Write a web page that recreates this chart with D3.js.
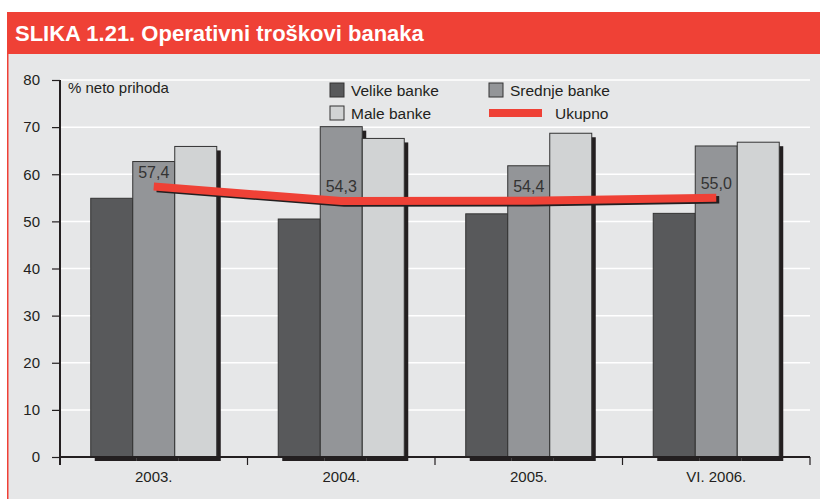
<!DOCTYPE html>
<meta charset="utf-8" />
<head>
  <script src="https://d3js.org/d3.v7.min.js"></script>
  <style>
    body { margin: 0; background: #fff; }
    text { font-family: "Liberation Sans", Arial, sans-serif; }
  </style>
</head>
<body>
  <div id="chart"></div>
</body>
<script>
  // data
  const years = ["2003.", "2004.", "2005.", "VI. 2006."];
  const series = ["Velike banke", "Srednje banke", "Male banke"];
  const velike = [54.9, 50.5, 51.6, 51.7];
  const srednje = [62.7, 70.1, 61.8, 66.0];
  const male = [65.9, 67.6, 68.7, 66.8];
  const ukupno = [57.4, 54.3, 54.4, 55.0];
  const ukupnoLabels = ["57,4", "54,3", "54,4", "55,0"];
  const yTicks = [0, 10, 20, 30, 40, 50, 60, 70, 80];

  const colors = ["#58595b", "#939598", "#d1d3d4"];
  const red = "#ef4136";
  const shadow = "#231f20";

  const W = 820, H = 499;
  const plot = { left: 60, right: 810, top: 80, bottom: 457 };

  var svg = d3
    .select("#chart")
    .append("svg")
    .attr("width", W)
    .attr("height", H);

  // title bar + panel
  svg.append("rect").attr("x", 7).attr("y", 12).attr("width", W - 7).attr("height", 42).attr("fill", red);
  svg.append("rect").attr("x", 7).attr("y", 54).attr("width", W - 7).attr("height", H - 54).attr("fill", "#e6e7e8");
  svg.append("line").attr("x1", 7.75).attr("x2", 7.75).attr("y1", 54).attr("y2", H)
    .attr("stroke", red).attr("stroke-width", 1.5);
  svg.append("text")
    .attr("x", 15).attr("y", 41)
    .attr("fill", "#fff")
    .style("font-size", "22px")
    .style("font-weight", "bold")
    .text("SLIKA 1.21. Operativni troškovi banaka");

  var x = d3.scaleBand().domain(years).range([plot.left, plot.right]);
  var xs = d3.scaleBand().domain(series).range([0, x.bandwidth()]).paddingInner(0).paddingOuter(0.732);
  var y = d3.scaleLinear().domain([0, 80]).range([plot.bottom, plot.top]);

  // gridlines
  svg.append("g")
    .selectAll("line")
    .data(yTicks.filter((d) => d > 0))
    .join("line")
    .attr("x1", plot.left).attr("x2", plot.right)
    .attr("y1", (d) => y(d)).attr("y2", (d) => y(d))
    .attr("stroke", "#fff").attr("stroke-width", 1.5);

  var rows = years.map((yr, i) => ({
    year: yr,
    vals: [velike[i], srednje[i], male[i]],
  }));

  var cells = [];
  rows.forEach((r) => {
    r.vals.forEach((v, j) => cells.push({ year: r.year, s: series[j], v: v, c: colors[j] }));
  });

  // shadows first, bars cover them
  svg.append("g")
    .selectAll("rect")
    .data(cells)
    .join("rect")
    .attr("x", (d) => x(d.year) + xs(d.s) + 4)
    .attr("y", (d) => y(d.v) + 4)
    .attr("width", xs.bandwidth())
    .attr("height", (d) => plot.bottom - y(d.v))
    .attr("fill", shadow);

  svg.append("g")
    .selectAll("rect")
    .data(cells)
    .join("rect")
    .attr("x", (d) => x(d.year) + xs(d.s))
    .attr("y", (d) => y(d.v))
    .attr("width", xs.bandwidth())
    .attr("height", (d) => plot.bottom - y(d.v))
    .attr("fill", (d) => d.c)
    .attr("stroke", "#333")
    .attr("stroke-width", 1);

  // Ukupno line
  var line = d3.line()
    .x((d, i) => x(years[i]) + x.bandwidth() / 2)
    .y((d) => y(d));

  svg.append("path")
    .datum(ukupno)
    .attr("d", line)
    .attr("transform", "translate(3,2)")
    .attr("fill", "none")
    .attr("stroke", shadow)
    .attr("stroke-width", 7.5);
  svg.append("path")
    .datum(ukupno)
    .attr("d", line)
    .attr("fill", "none")
    .attr("stroke", red)
    .attr("stroke-width", 8);

  svg.append("g")
    .selectAll("text")
    .data(ukupno)
    .join("text")
    .attr("x", (d, i) => x(years[i]) + x.bandwidth() / 2)
    .attr("y", (d) => y(d) - 9)
    .attr("text-anchor", "middle")
    .attr("fill", "#333")
    .style("font-size", "16px")
    .text((d, i) => ukupnoLabels[i]);

  // y axis
  var yAxis = svg.append("g")
    .attr("transform", "translate(" + plot.left + ",0)")
    .call(d3.axisLeft(y).tickValues(yTicks).tickSize(8).tickPadding(12).tickFormat(d3.format("d")));
  yAxis.select(".domain").attr("d", "M0," + plot.top + "V" + (plot.bottom + 8)).attr("stroke", "#231f20").attr("stroke-width", 2);
  yAxis.selectAll(".tick line").attr("stroke", "#231f20").attr("stroke-width", 1.2);
  yAxis.selectAll("text").style("font-size", "15px").attr("fill", "#231f20")
    .style("font-family", "Liberation Sans, Arial, sans-serif");

  // x axis: ticks at band edges, labels at centres
  var xAxis = svg.append("g")
    .attr("transform", "translate(0," + plot.bottom + ")")
    .call(d3.axisBottom(x).tickSize(0).tickPadding(14));
  xAxis.select(".domain").attr("d", "M" + plot.left + ",0H" + plot.right).attr("stroke", "#231f20").attr("stroke-width", 2);
  xAxis.selectAll("text").style("font-size", "15px").attr("fill", "#231f20")
    .style("font-family", "Liberation Sans, Arial, sans-serif");
  xAxis.selectAll(".edge")
    .data(years.map((d) => x(d)).concat([plot.right]))
    .join("line")
    .attr("class", "edge")
    .attr("x1", (d) => d).attr("x2", (d) => d)
    .attr("y1", 0).attr("y2", 8)
    .attr("stroke", "#231f20").attr("stroke-width", 1.2);

  svg.append("text")
    .attr("x", 68).attr("y", 93)
    .attr("fill", "#231f20")
    .style("font-size", "15px")
    .text("% neto prihoda");

  // legend
  var legendItems = [
    { name: series[0], kind: "box", c: colors[0], lx: 330, ly: 83 },
    { name: series[1], kind: "box", c: colors[1], lx: 489, ly: 83 },
    { name: series[2], kind: "box", c: colors[2], lx: 330, ly: 106 },
    { name: "Ukupno", kind: "line", c: red, lx: 489, ly: 106 },
  ];
  var lg = svg.append("g")
    .selectAll("g")
    .data(legendItems)
    .join("g")
    .attr("transform", (d) => "translate(" + d.lx + "," + d.ly + ")");
  lg.filter((d) => d.kind == "box")
    .append("rect")
    .attr("width", 14).attr("height", 14)
    .attr("fill", (d) => d.c)
    .attr("stroke", "#333");
  lg.filter((d) => d.kind == "line")
    .append("rect")
    .attr("y", 3).attr("width", 53).attr("height", 8)
    .attr("fill", red);
  lg.append("text")
    .attr("x", (d) => (d.kind == "box" ? 21 : 66))
    .attr("y", 13)
    .attr("fill", "#231f20")
    .style("font-size", "15.5px")
    .text((d) => d.name);
</script>
